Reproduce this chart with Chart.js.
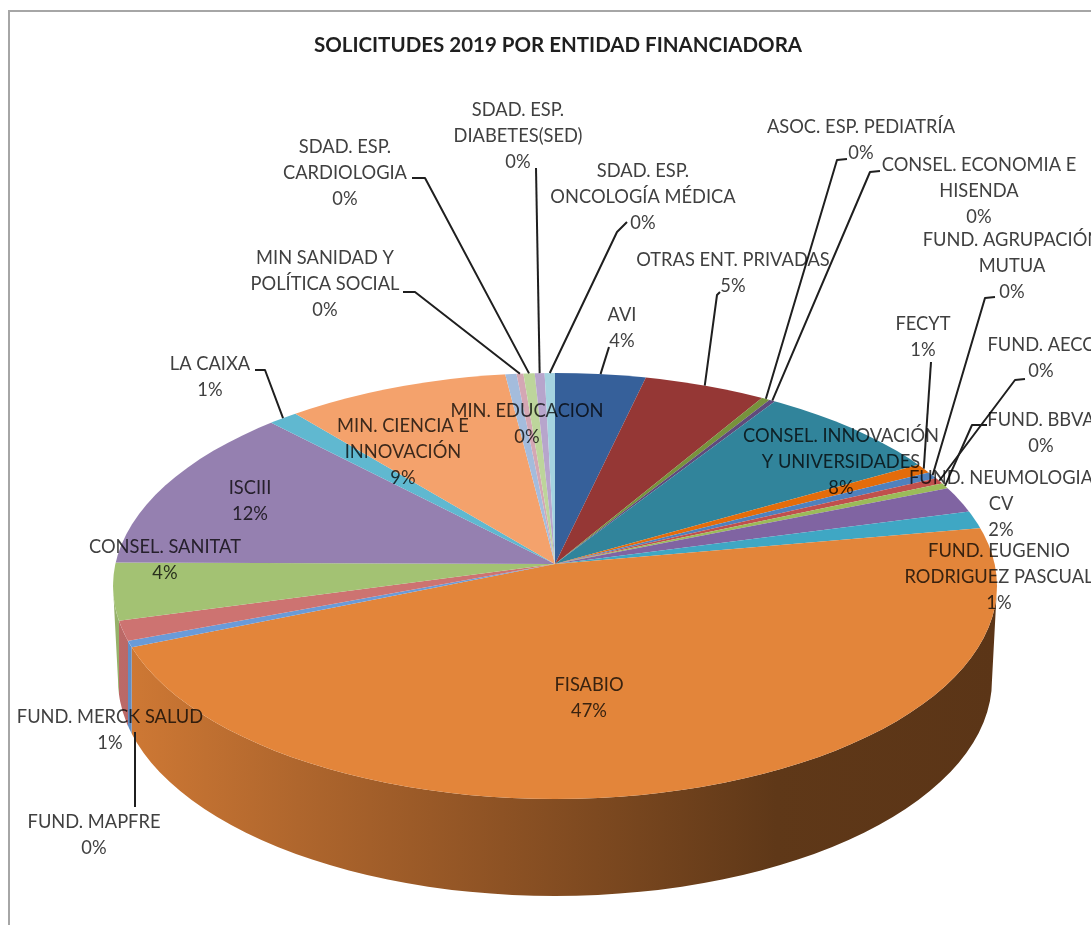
<!DOCTYPE html>
<html lang="es">
<head>
<meta charset="UTF-8">
<title>Solicitudes 2019 por entidad financiadora</title>
<script src="https://cdn.jsdelivr.net/npm/chart.js@4"></script>
<style>
    html, body { margin: 0; padding: 0; background: #fff; overflow: hidden; width: 1091px; height: 925px; }
    #frame { position: absolute; left: 8px; top: 10px; width: 1083px; height: 915px; box-sizing: border-box;
             border-left: 2px solid #a6a6a6; border-top: 2px solid #a6a6a6; }
    #wrap { position: absolute; left: 0; top: 0; width: 1091px; height: 925px; overflow: hidden; }
</style>
</head>
<body>
<div id="frame"></div>
<div id="wrap"><canvas id="pie" width="1091" height="1000"></canvas></div>

<script>
    // Datos (en el orden de las agujas del reloj desde arriba)
    const categories = [
        ["AVI"], ["OTRAS ENT. PRIVADAS"], ["ASOC. ESP. PEDIATRÍA"], ["CONSEL. ECONOMIA E", "HISENDA"],
        ["CONSEL. INNOVACIÓN", "Y UNIVERSIDADES"], ["FECYT"], ["FUND. AGRUPACIÓN", "MUTUA"], ["FUND. AECC"],
        ["FUND. BBVA"], ["FUND. NEUMOLOGIA", "CV"], ["FUND. EUGENIO", "RODRIGUEZ PASCUAL"], ["FISABIO"],
        ["FUND. MAPFRE"], ["FUND. MERCK SALUD"], ["CONSEL. SANITAT"], ["ISCIII"], ["LA CAIXA"],
        ["MIN. CIENCIA E", "INNOVACIÓN"], ["MIN. EDUCACION"], ["MIN SANIDAD Y", "POLÍTICA SOCIAL"],
        ["SDAD. ESP.", "CARDIOLOGIA"], ["SDAD. ESP.", "DIABETES(SED)"], ["SDAD. ESP.", "ONCOLOGÍA MÉDICA"]
    ];
    const shares = [3.95, 5.2, 0.35, 0.25, 7.55, 0.7, 0.49, 0.45, 0.4, 1.85, 1.25, 46.8,
                    0.45, 1.4, 4.0, 12.05, 1.2, 9.49, 0.49, 0.3, 0.49, 0.43, 0.45];
    const sliceColors = ["#36609a", "#953735", "#77933c", "#604a7b", "#31849b", "#e46c0a", "#4f81bd", "#c0504d",
                         "#9bbb59", "#8064a2", "#3fa7c4", "#e3853a", "#6a9bd8", "#cd7371", "#a3c273", "#9580b0",
                         "#60b8d0", "#f4a26c", "#a4bcdc", "#d4a7b4", "#bdd59b", "#b7a5cc", "#a5d3e0"];

    // Posicion del centro de cada etiqueta (primera linea)
    const labelAnchors = [
        [622, 315], [733, 260], [861, 127], [979, 165], [841, 436], [923, 324], [1012, 240], [1041, 345],
        [1041, 420], [1001, 478], [999, 551], [589, 685], [94, 822], [110, 717], [165, 547], [250, 488],
        [210, 364], [403, 426], [527, 411], [325, 258], [345, 147], [518, 110], [643, 171]
    ];
    // Lineas guia: puntos despues del borde del sector
    const leaderPaths = {
        0: [[609, 347]],
        1: [[717, 295], [720, 292]],
        2: [[837, 160], [847, 159]],
        3: [[870, 172], [880, 171]],
        5: [[931, 362]],
        6: [[985, 298], [995, 297]],
        7: [[1015, 380], [1025, 379]],
        8: [[972, 425], [987, 425]],
        12: [[135, 807]],
        16: [[265, 370], [255, 370]],
        19: [[415, 292], [403, 292]],
        20: [[425, 178], [412, 178]],
        21: [[536, 168]],
        22: [[617, 232], [627, 222]]
    };
    const leaderStarts = { 12: [135, 732] };

    // Geometria del disco en perspectiva
    const HUB = { x: 555, y: 564 };
    const TOP = { x: 555, y: 586, rx: 442, ry: 213 };
    const BOTTOM = { x: 555, y: 680, rx: 437, ry: 216 };
    const SQUASH = 0.52;
    const wallShade = [[0, 0.92], [0.21, 0.77], [0.44, 0.62], [0.75, 0.42], [1, 0.4]];

    const LABEL_FONT = '18.3px Lato';
    const LINE_HEIGHT = 26;

    // Punto del borde del disco en la direccion de un angulo del sector
    function rimPoint(angle) {
        const dx = Math.cos(angle);
        const dy = SQUASH * Math.sin(angle);
        const off = HUB.y - TOP.y;
        const a = dx * dx / (TOP.rx * TOP.rx) + dy * dy / (TOP.ry * TOP.ry);
        const b = 2 * off * dy / (TOP.ry * TOP.ry);
        const c = off * off / (TOP.ry * TOP.ry) - 1;
        const s = (-b + Math.sqrt(b * b - 4 * a * c)) / (2 * a);
        return { x: HUB.x + s * dx, y: HUB.y + s * dy };
    }

    function shade(hex, f) {
        const n = parseInt(hex.slice(1), 16);
        const r = Math.round((n >> 16 & 255) * f);
        const g = Math.round((n >> 8 & 255) * f);
        const b = Math.round((n & 255) * f);
        return `rgb(${r},${g},${b})`;
    }

    function drawWall(ctx, arcs) {
        arcs.forEach((arc, i) => {
            const start = rimPoint(arc.startAngle);
            const end = rimPoint(arc.endAngle);
            const startUp = start.y < TOP.y;
            const endUp = end.y < TOP.y;
            if (startUp && endUp) return;
            const hi = startUp ? 1010 : start.x;
            const lo = endUp ? 100 : end.x;
            ctx.save();
            ctx.beginPath();
            ctx.rect(lo, 0, hi - lo, 925);
            ctx.clip();
            const grad = ctx.createLinearGradient(113, 0, 997, 0);
            wallShade.forEach(s => grad.addColorStop(s[0], shade(sliceColors[i], s[1])));
            ctx.fillStyle = grad;
            ctx.beginPath();
            ctx.ellipse(TOP.x, TOP.y, TOP.rx, TOP.ry, 0, 0, Math.PI);
            ctx.ellipse(BOTTOM.x, BOTTOM.y, BOTTOM.rx, BOTTOM.ry, 0, Math.PI, 0, true);
            ctx.closePath();
            ctx.fill();
            ctx.restore();
        });
    }

    function drawLeaders(ctx, arcs) {
        ctx.strokeStyle = '#1f1f1f';
        ctx.lineWidth = 2;
        ctx.lineJoin = 'round';
        arcs.forEach((arc, i) => {
            const via = leaderPaths[i];
            if (!via) return;
            const p = leaderStarts[i]
                ? { x: leaderStarts[i][0], y: leaderStarts[i][1] }
                : rimPoint((arc.startAngle + arc.endAngle) / 2);
            ctx.beginPath();
            ctx.moveTo(p.x, p.y);
            via.forEach(q => ctx.lineTo(q[0], q[1]));
            ctx.stroke();
        });
    }

    function drawLabels(ctx) {
        ctx.save();
        ctx.font = LABEL_FONT;
        ctx.fillStyle = '#404040';
        ctx.textAlign = 'center';
        ctx.textBaseline = 'middle';
        ctx.globalCompositeOperation = 'multiply';
        categories.forEach((lines, i) => {
            const [x, y] = labelAnchors[i];
            lines.concat(Math.round(shares[i]) + '%').forEach((text, j) => {
                ctx.fillText(text, x, y + j * LINE_HEIGHT);
            });
        });
        ctx.restore();
    }

    // Dibuja el pie plano de Chart.js aplastado sobre el disco con su lateral
    const disc3d = {
        id: 'disc3d',
        beforeDatasetsDraw(chart) {
            const ctx = chart.ctx;
            const arcs = chart.getDatasetMeta(0).data;
            drawWall(ctx, arcs);
            ctx.save();
            ctx.beginPath();
            ctx.ellipse(TOP.x, TOP.y, TOP.rx, TOP.ry, 0, 0, Math.PI * 2);
            ctx.clip();
            ctx.translate(HUB.x, HUB.y);
            ctx.scale(1, SQUASH);
            ctx.translate(-arcs[0].x, -arcs[0].y);
        },
        afterDatasetsDraw(chart) {
            const ctx = chart.ctx;
            ctx.restore();
            drawLeaders(ctx, chart.getDatasetMeta(0).data);
            drawLabels(ctx);
        }
    };

    const pieChart = new Chart(document.getElementById('pie'), {
        type: 'pie',
        data: {
            labels: categories,
            datasets: [{
                data: shares,
                backgroundColor: sliceColors,
                borderWidth: 0,
                clip: false
            }]
        },
        options: {
            responsive: false,
            animation: false,
            layout: { padding: { left: 25 } },
            plugins: {
                legend: { display: false },
                tooltip: { enabled: false },
                title: {
                    display: true,
                    text: 'SOLICITUDES 2019 POR ENTIDAD FINANCIADORA',
                    fullSize: false,
                    color: '#1f1f1f',
                    font: { family: 'Lato', size: 20.5, weight: 'bold' },
                    padding: { top: 33, bottom: 8 }
                }
            }
        },
        plugins: [disc3d]
    });
</script>
</body>
</html>
